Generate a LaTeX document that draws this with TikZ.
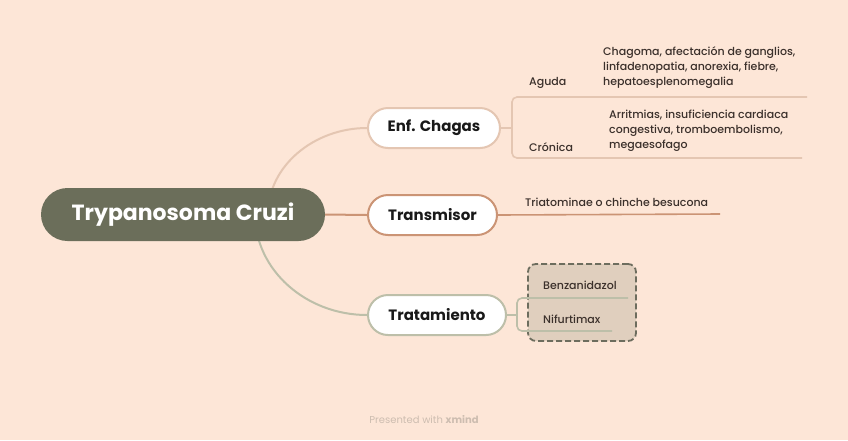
\documentclass[tikz,border=0pt]{standalone}
\usepackage{fontspec}
\setmainfont{Poppins}
\newfontfamily\medfont{Poppins}[UprightFont=* Medium]
\definecolor{bg}{HTML}{FDE6D7}
\definecolor{rootc}{HTML}{6B6E5A}
\definecolor{enfc}{HTML}{E4C6B2}
\definecolor{trac}{HTML}{CB9475}
\definecolor{trtc}{HTML}{BDBFA9}
\definecolor{txt}{HTML}{3B302B}
\definecolor{boxf}{HTML}{E0CFBE}
\definecolor{boxd}{HTML}{6D6D5E}
\definecolor{foot}{HTML}{CDBDB0}
\tikzset{
  topic/.style={draw=#1, line width=2pt, fill=white, rounded corners=20pt, minimum height=40pt, inner sep=0pt, font=\fontsize{15}{18}\selectfont\bfseries, text=black!90},
  leaf/.style={font=\medfont\fontsize{11}{15}\selectfont, text=txt, inner sep=0pt, align=left},
  conn/.style={line width=2pt, draw=#1},
  thin/.style={line width=1.6pt, draw=#1, rounded corners=5pt},
}
\begin{document}
\begin{tikzpicture}[x=1pt,y=-1pt]
\fill[bg] (0,0) rectangle (848,440);
\useasboundingbox (0,0) rectangle (848,440);
\coordinate (ra) at (268,214);
\coordinate (rb) at (255,214);
\node[topic=enfc, minimum width=132pt] (enf) at (434,128) {Enf. Chagas};
\node[topic=trac, minimum width=129pt] (tra) at (432.5,215) {Transmisor};
\node[topic=trtc, minimum width=138pt] (trt) at (437,315) {Tratamiento};
\draw[conn=enfc] (ra) .. controls (268,166) and (314,128) .. (enf.west);
\draw[conn=trtc] (rb) .. controls (255,270) and (306,315) .. (trt.west);
\node[fill=rootc, rounded corners=26.5pt, minimum width=284pt, minimum height=53pt, inner sep=0pt, text=white, font=\fontsize{22}{26}\selectfont\bfseries] (root) at (183,214.5) {Trypanosoma Cruzi};
\draw[conn=trac] (root.east) -- (tra.west);
% Enf. Chagas children
\coordinate (eb) at (512,128);
\coordinate (ea) at (807,97);
\coordinate (ec) at (802,158);
\draw[thin=enfc, rounded corners=0pt] (enf.east) -- (eb);
\draw[thin=enfc] (ea) -- (512,97) -- (512,158) -- (ec);
\node[leaf, anchor=west] (agu) at (529,83) {Aguda};
\node[leaf, anchor=west] (cro) at (529,147) {Crónica};
\node[leaf, anchor=north west] (agd) at (603,46) {Chagoma, afectación de ganglios,\\linfadenopatia, anorexia, fiebre,\\hepatoesplenomegalia};
\node[leaf, anchor=north west] (crd) at (609,110) {Arritmias, insuficiencia cardiaca\\congestiva, tromboembolismo,\\megaesofago};
% Transmisor child
\coordinate (te) at (720,214);
\draw[thin=trac, rounded corners=0pt] (tra.east) -- (te);
\node[leaf, anchor=west] (tri) at (525,202) {Triatominae o chinche besucona};
% Tratamiento children
\node[fill=boxf, draw=boxd, dashed, dash pattern=on 6pt off 3pt, line width=1.8pt, rounded corners=8pt, minimum width=108pt, minimum height=77pt] (box) at (582,302.5) {};
\coordinate (tb) at (517,315);
\coordinate (t1) at (628,298);
\coordinate (t2) at (612,331);
\draw[thin=trtc, rounded corners=0pt] (trt.east) -- (tb);
\draw[thin=trtc] (t1) -- (517,298) -- (517,331) -- (t2);
\node[leaf, anchor=west] (ben) at (543,285) {Benzanidazol};
\node[leaf, anchor=west] (nif) at (543,319) {Nifurtimax};
\node[font=\fontsize{10}{12}\selectfont, text=foot] (ft) at (424,420) {Presented with \textbf{xmind}};
\end{tikzpicture}
\end{document}
